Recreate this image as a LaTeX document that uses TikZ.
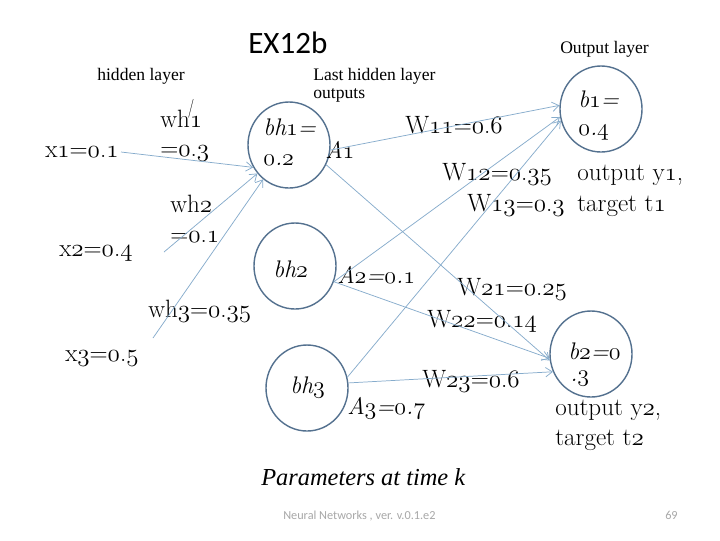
\RequirePackage{fix-cm}
\documentclass[tikz,border=0pt]{standalone}
\usepackage{fontspec}
\newfontfamily\calib{Carlito}
\newfontfamily\tnr{Liberation Serif}
\usetikzlibrary{shapes.geometric,arrows.meta}
\newcommand\od[1]{{\fontencoding{OML}\fontfamily{cmm}\fontseries{m}\fontshape{it}\selectfont #1}}
\newcommand\dn[2]{\od{#1}.\od{#2}}
\definecolor{nodeblue}{HTML}{54718F}
\definecolor{linkblue}{HTML}{86ACCC}
\definecolor{footgray}{HTML}{A8A8A8}
\begin{document}
\begin{tikzpicture}[x=0.75pt,y=-0.75pt,
  neuron/.style={draw=nodeblue, line width=1.05pt, ellipse, minimum width=61.5pt, minimum height=64.5pt, inner sep=0pt},
  conn/.style={draw=linkblue, line width=0.55pt, -{Straight Barb[length=5pt,width=7pt]}},
  lab/.style={inner sep=0pt, anchor=base west, font=\fontsize{18.8}{22}\selectfont},
  ilab/.style={inner sep=0pt, anchor=base west, font=\fontsize{18}{22}\selectfont\itshape},
  small/.style={inner sep=0pt, anchor=base west, font=\tnr\fontsize{13.2}{15}\selectfont}]
\useasboundingbox[fill=white] (0,0) rectangle (720,540);

% neurons
\node[neuron] (bh1) at (289,145) {};
\node[neuron] (bh2) at (295,266) {};
\node[neuron] (bh3) at (307,388) {};
\node[neuron] (b1) at (601,109) {};
\node[neuron] (b2) at (591,354) {};

% titles
\node[inner sep=0pt, anchor=base west, font=\calib\fontsize{23.3}{28}\selectfont] (title) at (248,53) {EX12b};
\node[small] (hl) at (97,80) {hidden layer};
\node[small] (lhl1) at (313,80) {Last hidden layer};
\node[small] (lhl2) at (313,98) {outputs};
\node[small] (ol) at (560,53) {Output layer};

% inputs
\node[lab] (x1) at (45,157) {x\od{1}=\dn{0}{1}};
\node[lab] (x2) at (59,256) {x\od{2}=\dn{0}{4}};
\node[lab] (x3) at (65,361) {x\od{3}=\dn{0}{5}};
\coordinate (c1) at (121,152);
\coordinate (c2) at (164,252);
\coordinate (c3) at (153,338);

\node[lab] (wh1) at (160,127) {wh\rlap{\kern-0.08em\raisebox{0.55em}{\scalebox{0.55}[0.75]{/}}}\od{1}};
\node[lab] (wh1v) at (160,156) {=\dn{0}{3}};
\node[lab] (wh2) at (170,212) {wh\od{2}};
\node[lab] (wh2v) at (170,242) {=\dn{0}{1}};
\node[lab] (wh3) at (148,317) {wh\od{3}=\dn{0}{35}};

% hidden labels
\node[ilab] (bh1a) at (263,135) {bh\od{1}=};
\node[ilab] (bh1b) at (263,165) {\dn{0}{2}};
\node[ilab] (A1) at (325,158) {A\od{1}};
\node[ilab] (bh2t) at (273,277) {bh\od{2}};
\node[ilab] (A2) at (337,283) {A\od{2}=\dn{0}{1}};
\node[ilab] (bh3t) at (290,393) {bh\od{3}};
\node[ilab] (A3) at (347,414) {A\od{3}=\dn{0}{7}};

% output labels
\node[ilab] (b1a) at (578,107) {b\od{1}=};
\node[ilab] (b1b) at (578,135) {\dn{0}{4}};
\node[ilab] (b2a) at (568,359) {b\od{2}=\od{0}};
\node[ilab] (b2b) at (570,381) {.\od{3}};
\node[lab] (oy1) at (577,180) {output y\od{1},};
\node[lab] (tt1) at (577,211) {target t\od{1}};
\node[lab] (oy2) at (555,415) {output y\od{2},};
\node[lab] (tt2) at (555,445) {target t\od{2}};

% weights
\node[lab] (W11) at (405,133) {W\od{11}=\dn{0}{6}};
\node[lab] (W12) at (442,180) {W\od{12}=\dn{0}{35}};
\node[lab] (W13) at (467,211) {W\od{13}=\dn{0}{3}};
\node[lab] (W21) at (457,295) {W\od{21}=\dn{0}{25}};
\node[lab] (W22) at (427,327) {W\od{22}=\dn{0}{14}};
\node[lab] (W23) at (422,387) {W\od{23}=\dn{0}{6}};

\node[inner sep=0pt, anchor=base west, font=\tnr\fontsize{18.3}{22}\selectfont\itshape] (param) at (261,485) {Parameters at time k};
\node[inner sep=0pt, anchor=base west, font=\calib\fontsize{9.2}{11}\selectfont, text=footgray] (foot) at (283,519) {Neural Networks , ver. v.0.1.e2};
\node[inner sep=0pt, anchor=base west, font=\calib\fontsize{9.2}{11}\selectfont, text=footgray] (pg) at (665,519) {69};

% connectors
\draw[conn] (c1) -- (bh1.212);
\draw[conn] (c2) -- (bh1.222);
\draw[conn] (c3) -- (bh1.233);
\draw[conn] (bh1.-7) -- (b1.175);
\draw[conn] (bh1.-28) -- (b2.189);
\draw[conn] (bh2.-22) -- (b1.191);
\draw[conn] (bh2.-22) -- (b2.186);
\draw[conn] (bh3.15) -- (b1.196);
\draw[conn] (bh3.7) -- (b2.205);
\end{tikzpicture}
\end{document}
